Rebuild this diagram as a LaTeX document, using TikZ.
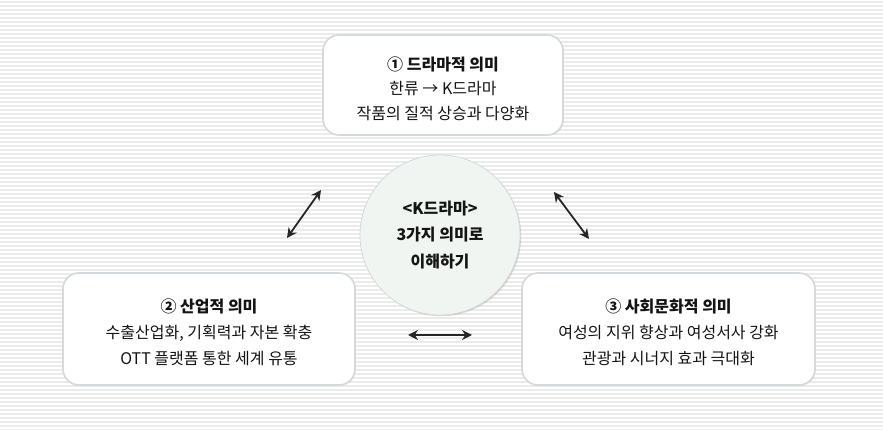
\documentclass[tikz,border=0pt]{standalone}
\usepackage{fontspec}
\setmainfont{Noto Sans CJK KR}
\usetikzlibrary{arrows.meta,shadows}
\definecolor{stripe}{HTML}{EBEBEB}
\definecolor{boxline}{HTML}{D5D9DE}
\definecolor{circfill}{HTML}{F1F5F1}
\definecolor{txt}{HTML}{141414}
\tikzset{
  infobox/.style={draw=boxline, line width=1.6pt, fill=white, rounded corners=16pt,
    drop shadow={shadow xshift=0.8pt, shadow yshift=-0.8pt, opacity=0.15}},
  boxtext/.style={align=center, text=txt, inner sep=0pt},
  hub/.style={circle, draw=boxline, line width=0.8pt, fill=circfill, minimum size=160pt,
    align=center, font=\bfseries\fontsize{16}{26.5}\selectfont, text=txt,
    drop shadow={shadow xshift=1.2pt, shadow yshift=-1.2pt, opacity=0.3}},
  link/.style={{Stealth[length=10pt,width=10pt]}-{Stealth[length=10pt,width=10pt]}, line width=1.8pt, draw=black!85}
}
\begin{document}
\begin{tikzpicture}[x=1pt,y=1pt]
\useasboundingbox (0,0) rectangle (883,430);
\fill[white] (0,0) rectangle (883,430);
\foreach \i in {0,...,107} {
  \fill[stripe] (0,{430-4*\i-2.8}) rectangle (883,{430-4*\i-1.2});
}
\node[infobox, minimum width=240pt, minimum height=100pt] (top) at (443,345) {};
\node[boxtext, font=\fontsize{16}{24.5}\selectfont] (toptext) at ([yshift=-3.5pt]top.center)
  {\textbf{① 드라마적 의미}\\한류 → K드라마\\작품의 질적 상승과 다양화};
\node[infobox, minimum width=292pt, minimum height=112pt] (left) at (209,101) {};
\node[boxtext, font=\fontsize{16}{26}\selectfont] (lefttext) at ([yshift=-3pt]left.center)
  {\textbf{② 산업적 의미}\\수출산업화, 기획력과 자본 확충\\OTT 플랫폼 통한 세계 유통};
\node[infobox, minimum width=293pt, minimum height=112pt] (right) at (668.5,101) {};
\node[boxtext, font=\fontsize{16}{26}\selectfont] (righttext) at ([yshift=-3pt]right.center)
  {\textbf{③ 사회문화적 의미}\\여성의 지위 향상과 여성서사 강화\\관광과 시너지 효과 극대화};
\node[hub] (hub) at (440,195) {<K드라마>\\3가지 의미로\\이해하기};
\coordinate (a1) at (287,192);
\coordinate (a2) at (321,240);
\coordinate (b1) at (554,238);
\coordinate (b2) at (589,191);
\coordinate (c1) at (408,95);
\coordinate (c2) at (472,95);
\draw[link] (a1) -- (a2);
\draw[link] (b1) -- (b2);
\draw[link] (c1) -- (c2);
\end{tikzpicture}
\end{document}
